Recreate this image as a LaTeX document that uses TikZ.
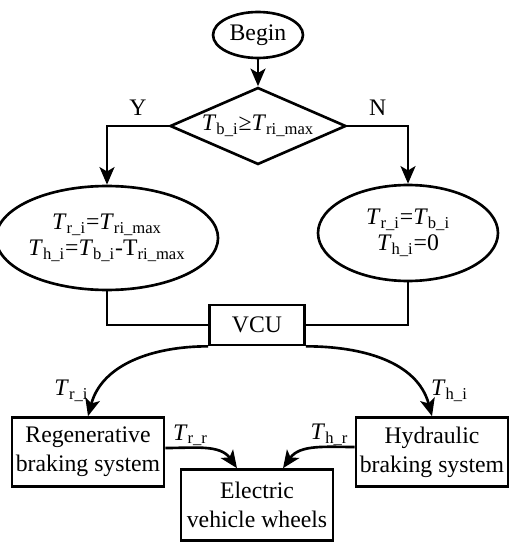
\documentclass[tikz,border=0pt]{standalone}
\usepackage{fontspec}
\setmainfont{Liberation Serif}
\usetikzlibrary{shapes.geometric, arrows.meta}
\newcommand{\Tq}[1]{\textit{T}\textsubscript{#1}}

\begin{document}
\begin{tikzpicture}[x=0.02cm, y=-0.02cm, line width=1.5pt,
  every node/.style={font=\fontsize{13.5}{15}\selectfont},
  term/.style={draw, ellipse, minimum width=1.8cm, minimum height=0.92cm, inner sep=0pt},
  cond/.style={draw, diamond, aspect=2.3, minimum width=3.52cm, minimum height=1.54cm, inner sep=1pt},
  ellbox/.style={draw, ellipse, minimum width=3.6cm, minimum height=#1, inner sep=0pt, align=center},
  sysbox/.style={draw, rectangle, minimum width=3.04cm, minimum height=1.38cm, inner sep=1pt,
                 align=center, font=\fontsize{13.5}{16.5}\selectfont},
  flow/.style={-{Stealth[length=10pt, width=8.5pt, inset=2.5pt]}}
]
  \useasboundingbox (0,0) rectangle (519,550);

  % flowchart part
  \node[term] (begin) at (258,35) {Begin};
  \node[cond] (test) at (258,126) {\Tq{b\_i}≥\Tq{ri\_max}};
  \node[ellbox=2.08cm] (yes) at (107,238) {\Tq{r\_i}=\Tq{ri\_max}\\\Tq{h\_i}=\Tq{b\_i}-T\textsubscript{ri\_max}};
  \node[ellbox=1.92cm] (no) at (408,233) {\Tq{r\_i}=\Tq{b\_i}\\\Tq{h\_i}=0};
  \node[draw, minimum width=1.9cm, minimum height=0.8cm] (vcu) at (257,325) {VCU};

  % braking systems
  \node[sysbox] (regen) at (88,452) {Regenerative\\braking system};
  \node[sysbox] (hydr) at (432,452) {Hydraulic\\braking system};
  \node[sysbox, minimum height=1.42cm] (wheel) at (257,505) {Electric\\vehicle wheels};

  \draw[flow] (begin) -- (test);
  \draw[flow] (test.west) -| (yes.north) node[pos=0.25, above=2pt] {Y};
  \draw[flow] (test.east) -| (no.north) node[pos=0.25, above=2pt] {N};
  \draw (yes.south) |- (vcu.west);
  \draw (no.south) |- (vcu.east);

  \draw[flow] (vcu.south west) to[out=180, in=75]
    node[pos=0.82, left=2pt] {\Tq{r\_i}} (regen.north);
  \draw[flow] (vcu.south east) to[out=0, in=105]
    node[pos=0.82, right=2pt] {\Tq{h\_i}} (hydr.north);
  \draw[flow] ([yshift=0.08cm]regen.east) to[out=0, in=125]
    node[pos=0.3, above=-3pt] {\Tq{r\_r}} ([xshift=-0.4cm]wheel.north);
  \draw[flow] ([yshift=0.1cm]hydr.west) to[out=180, in=55]
    node[pos=0.3, above=-3pt] {\Tq{h\_r}} ([xshift=0.52cm]wheel.north);
\end{tikzpicture}
\end{document}
